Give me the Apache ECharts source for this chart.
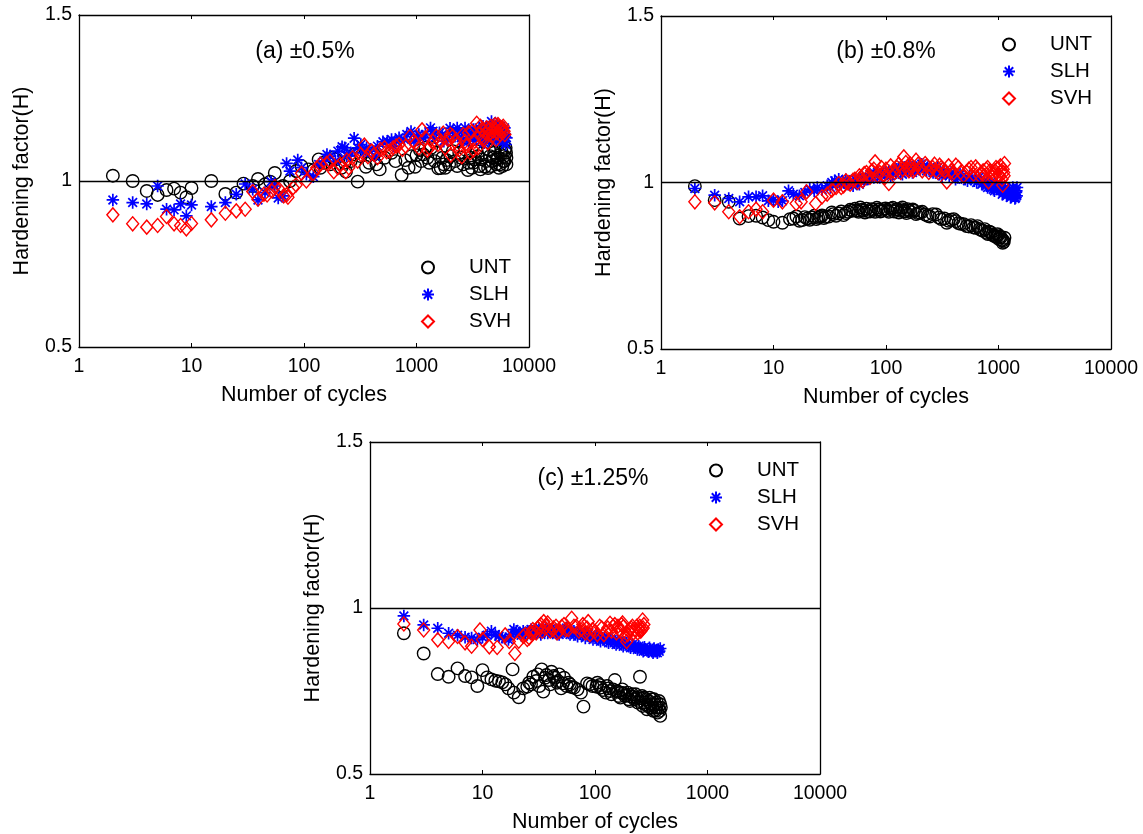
<!DOCTYPE html>
<html>
<head>
<meta charset="utf-8">
<script src="https://cdn.jsdelivr.net/npm/echarts@6/dist/echarts.min.js"></script>
<style>
  html, body { margin: 0; padding: 0; background: #ffffff; }
  #chart { width: 1143px; height: 834px; }
</style>
</head>
<body>
<div id="chart"></div>
<script>
// ---- data: [number of cycles, hardening factor H] ----
const seriesNames = ['UNT', 'SLH', 'SVH'];
const panelLabels = ['(a) \u00b10.5%', '(b) \u00b10.8%', '(c) \u00b11.25%'];
const xTitle = 'Number of cycles';
const yTitle = 'Hardening factor(H)';
const xRange = [1, 10000];
const yRange = [0.5, 1.5];
const yStep = 0.5;
const refLevel = 1;

// (a) ±0.5 %
const untA = [[2,1.016],[3,1.0],[4,0.97],[5,0.958],[6,0.973],[7,0.977],[8,0.965],[9,0.951],[10,0.979],[15,1.0],[20,0.961],[25,0.965],[29,0.992],[35,0.985],[39,1.006],[45,0.99],[50,0.998],[55,1.024],[65,0.985],[75,1.0],[85,1.03],[95,1.045],[110,1.035],[122,1.033],[135,1.065],[140,1.04],[150,1.055],[170,1.05],[180,1.07],[190,1.065],[215,1.04],[230,1.055],[236,1.028],[260,1.06],[280,1.08],[300,0.998],[320,1.075],[355,1.043],[380,1.055],[420,1.08],[440,1.05],[471,1.035],[520,1.07],[600,1.085],[650,1.06],[738,1.018],[794,1.063],[850,1.04],[900,1.075],[970,1.043],[1000,1.078],[1072,1.093],[1100,1.06],[1150,1.08],[1200,1.1],[1250,1.07],[1300,1.055],[1350,1.1],[1450,1.06],[1500,1.085],[1563,1.038],[1640,1.039],[1700,1.07],[1750,1.05],[1800,1.04],[1855,1.063],[1950,1.05],[2000,1.075],[2100,1.09],[2200,1.06],[2300,1.045],[2400,1.085],[2500,1.07],[2600,1.05],[2700,1.095],[2860,1.033],[2900,1.055],[3000,1.07],[3100,1.04],[3200,1.055],[3300,1.065],[3400,1.09],[3500,1.075],[3600,1.045],[3700,1.035],[3800,1.065],[3900,1.085],[4064,1.043],[4150,1.06],[4325,1.039],[4400,1.095],[4500,1.075],[4600,1.045],[4700,1.06],[4800,1.07],[4900,1.085],[5000,1.1],[5100,1.05],[5200,1.065],[5300,1.07],[5400,1.04],[5520,1.05],[5600,1.08],[5700,1.09],[5800,1.045],[5900,1.06],[6000,1.075],[6050,1.06],[6120,1.093],[6200,1.1],[6250,1.085],[6300,1.07],[6300,1.05]];
const slhA = [[2,0.943],[3,0.935],[4,0.931],[5,0.985],[6,0.915],[7,0.913],[8,0.931],[9,0.895],[10,0.928],[15,0.923],[20,0.935],[25,0.96],[30,0.991],[35,0.975],[39,0.943],[45,0.965],[51,0.998],[55,0.985],[59,0.949],[65,0.955],[70,1.053],[75,1.03],[88,1.063],[95,1.04],[105,1.02],[121,1.013],[135,1.05],[150,1.06],[160,1.08],[170,1.075],[190,1.06],[200,1.09],[218,1.103],[230,1.1],[240,1.075],[260,1.085],[279,1.129],[300,1.1],[320,1.11],[340,1.085],[360,1.1],[380,1.09],[430,1.075],[450,1.105],[503,1.118],[550,1.12],[600,1.125],[620,1.105],[660,1.12],[700,1.13],[780,1.125],[820,1.14],[894,1.149],[950,1.12],[1000,1.135],[1050,1.14],[1150,1.13],[1200,1.14],[1332,1.16],[1400,1.15],[1450,1.13],[1600,1.145],[1700,1.14],[1750,1.12],[1900,1.125],[1986,1.159],[2100,1.15],[2200,1.135],[2300,1.16],[2400,1.15],[2500,1.13],[2600,1.12],[2700,1.16],[2800,1.145],[2900,1.12],[3000,1.13],[3100,1.145],[3200,1.155],[3300,1.135],[3400,1.125],[3500,1.15],[3600,1.16],[3700,1.12],[3800,1.14],[3900,1.165],[4000,1.115],[4100,1.135],[4200,1.15],[4300,1.16],[4400,1.125],[4600,1.145],[4640,1.179],[4700,1.13],[4800,1.135],[4900,1.16],[5000,1.15],[5100,1.12],[5200,1.17],[5300,1.145],[5400,1.13],[5500,1.165],[5600,1.14],[5700,1.13],[5800,1.12],[5900,1.15],[6000,1.139],[6050,1.16],[6120,1.133],[6200,1.11],[6300,1.13]];
const svhA = [[2,0.898],[3,0.871],[4,0.861],[5,0.866],[6,0.893],[7,0.871],[8,0.866],[9,0.856],[10,0.872],[15,0.883],[20,0.903],[25,0.91],[30,0.915],[35,0.968],[39,0.945],[44,0.96],[47,0.958],[52,0.97],[55,0.983],[60,0.975],[66,0.955],[70,0.958],[72,0.951],[80,0.98],[85,0.988],[95,1.023],[105,1.0],[121,1.023],[130,1.04],[140,1.05],[159,1.053],[170,1.06],[184,1.028],[200,1.04],[210,1.05],[235,1.028],[240,1.063],[250,1.04],[270,1.07],[300,1.06],[320,1.08],[344,1.108],[370,1.073],[400,1.09],[420,1.08],[450,1.07],[480,1.095],[520,1.1],[543,1.088],[580,1.09],[620,1.1],[660,1.105],[700,1.11],[750,1.095],[800,1.105],[875,1.134],[950,1.12],[973,1.113],[1050,1.1],[1120,1.154],[1200,1.13],[1250,1.093],[1300,1.1],[1400,1.12],[1500,1.135],[1550,1.11],[1650,1.12],[1731,1.144],[1800,1.1],[1900,1.125],[2000,1.14],[2018,1.078],[2100,1.135],[2200,1.12],[2300,1.11],[2400,1.095],[2530,1.073],[2600,1.14],[2700,1.12],[2800,1.105],[2900,1.145],[3000,1.085],[3100,1.15],[3200,1.093],[3300,1.12],[3427,1.174],[3500,1.1],[3600,1.14],[3700,1.165],[3800,1.155],[3900,1.13],[4000,1.125],[4100,1.145],[4200,1.16],[4300,1.115],[4400,1.14],[4500,1.155],[4600,1.165],[4700,1.135],[4800,1.15],[4900,1.16],[5000,1.17],[5100,1.125],[5200,1.145],[5300,1.17],[5400,1.164],[5500,1.14],[5600,1.155],[5700,1.15],[5800,1.16],[5900,1.165],[6000,1.15],[6100,1.14]];

// (b) ±0.8 %
const untB = [[2,0.989],[3,0.947],[4,0.942],[5,0.892],[6,0.899],[7,0.9],[8,0.895],[9,0.887],[10,0.882],[12,0.879],[14,0.89],[15,0.892],[16,0.898],[17,0.885],[18,0.887],[19,0.896],[20,0.892],[21,0.888],[22,0.895],[23,0.9],[24,0.89],[25,0.894],[26,0.897],[27,0.901],[28,0.893],[29,0.897],[31,0.898],[33,0.91],[34,0.905],[36,0.9],[38,0.907],[40,0.913],[42,0.902],[44,0.908],[46,0.912],[48,0.918],[50,0.915],[53,0.921],[55,0.916],[57,0.912],[59,0.925],[61,0.918],[63,0.915],[65,0.91],[67,0.921],[69,0.914],[72,0.913],[74,0.92],[77,0.918],[80,0.912],[83,0.924],[86,0.919],[89,0.913],[92,0.915],[95,0.92],[99,0.922],[103,0.917],[106,0.912],[110,0.921],[115,0.924],[118,0.913],[122,0.918],[126,0.92],[130,0.91],[134,0.915],[137,0.92],[140,0.925],[144,0.914],[148,0.913],[152,0.908],[156,0.92],[160,0.916],[166,0.911],[173,0.919],[178,0.915],[185,0.905],[192,0.908],[200,0.91],[210,0.912],[223,0.904],[235,0.9],[245,0.898],[260,0.905],[279,0.904],[295,0.895],[310,0.89],[330,0.892],[347,0.879],[360,0.885],[380,0.888],[400,0.89],[418,0.884],[440,0.878],[460,0.876],[490,0.875],[520,0.869],[545,0.868],[570,0.872],[600,0.865],[627,0.864],[650,0.869],[680,0.86],[705,0.857],[730,0.855],[755,0.86],[782,0.849],[805,0.845],[830,0.852],[855,0.85],[880,0.843],[910,0.84],[940,0.839],[960,0.836],[980,0.845],[995,0.842],[1010,0.83],[1030,0.838],[1050,0.835],[1070,0.828],[1090,0.819],[1100,0.826],[1115,0.822],[1130,0.834]];
const slhB = [[2,0.982],[3,0.962],[4,0.952],[5,0.942],[6,0.957],[7,0.957],[8,0.96],[9,0.945],[10,0.948],[11,0.942],[12,0.945],[13.6,0.975],[15,0.965],[17,0.96],[19,0.97],[21,0.98],[23,0.975],[24.5,0.985],[27,0.978],[30,0.99],[32,0.985],[33,1.0],[35,1.005],[36,0.995],[38,1.01],[40,0.995],[42,1.0],[44,1.008],[46,0.995],[48,1.0],[51,0.99],[53,1.01],[56,1.0],[58,0.995],[60,1.01],[62,1.015],[64,1.005],[67,1.01],[70,1.015],[72,1.025],[75,1.02],[78,1.015],[80,1.025],[84,1.03],[88,1.015],[91,1.02],[95,1.03],[100,1.03],[106,1.035],[110,1.02],[115,1.025],[120,1.035],[125,1.04],[130,1.045],[135,1.03],[140,1.025],[145,1.045],[150,1.04],[155,1.035],[160,1.05],[167,1.045],[172,1.03],[180,1.035],[186,1.045],[195,1.05],[200,1.04],[208,1.055],[218,1.05],[229,1.035],[240,1.04],[250,1.045],[262,1.03],[275,1.03],[288,1.045],[300,1.025],[315,1.02],[330,1.035],[345,1.03],[365,1.02],[380,1.03],[400,1.025],[415,1.01],[433,1.015],[455,1.025],[480,1.02],[505,1.01],[530,1.005],[555,1.02],[580,1.015],[610,1.005],[640,1.0],[665,1.015],[690,1.01],[710,0.995],[726,1.0],[750,1.005],[780,0.99],[800,0.985],[830,0.995],[850,1.0],[870,0.985],[900,0.98],[920,0.975],[950,0.995],[970,0.99],[1000,0.98],[1030,0.975],[1050,0.99],[1080,0.965],[1100,0.97],[1130,0.98],[1150,0.985],[1180,0.96],[1200,0.965],[1230,0.97],[1250,0.98],[1280,0.955],[1300,0.96],[1320,0.975],[1340,0.985],[1360,0.96],[1380,0.965],[1400,0.952],[1420,0.955],[1430,0.97],[1440,0.975],[1450,0.96],[1460,0.985]];
const svhB = [[2,0.942],[3,0.939],[4,0.912],[5,0.897],[6,0.912],[7,0.92],[8,0.912],[10,0.947],[12,0.942],[15.9,0.937],[17.6,0.942],[19.7,0.972],[23.7,0.937],[27,0.957],[30,0.965],[33,0.977],[36,0.985],[38,0.997],[40,0.985],[42,0.99],[44,1.005],[46,1.0],[48,0.995],[51,1.007],[53,1.01],[56,1.0],[58,1.02],[60,1.015],[62,1.005],[64,1.027],[67,1.03],[70,1.02],[72,1.015],[75,1.035],[78,1.04],[80,1.062],[84,1.02],[88,1.03],[91,1.045],[95,1.025],[98,1.015],[100,1.04],[106,0.997],[110,1.05],[115,1.035],[120,1.03],[125,1.045],[130,1.055],[135,1.03],[140,1.04],[144,1.077],[150,1.06],[155,1.04],[160,1.035],[165,1.055],[170,1.05],[175,1.035],[180,1.04],[185,1.067],[193,1.055],[200,1.045],[210,1.035],[223,1.057],[230,1.05],[240,1.03],[250,1.04],[260,1.045],[270,1.055],[280,1.035],[290,1.03],[300,1.052],[310,1.045],[320,1.04],[335,1.035],[347,1.002],[360,1.05],[380,1.035],[400,1.03],[418,1.052],[440,1.045],[460,1.03],[490,1.02],[520,1.032],[545,1.04],[570,1.045],[600,1.025],[627,1.047],[650,1.04],[680,1.02],[700,1.03],[730,1.035],[750,1.02],[780,1.04],[800,1.045],[815,1.002],[840,1.035],[860,1.03],[885,1.015],[910,1.025],[930,1.035],[950,1.045],[980,1.042],[1000,1.025],[1020,1.02],[1040,1.05],[1060,1.035],[1075,1.01],[1090,0.992],[1100,1.04],[1110,1.03],[1120,1.02],[1130,1.057]];

// (c) ±1.25 %
const untC = [[2,0.924],[3,0.863],[4,0.801],[5,0.793],[6,0.818],[7,0.795],[8,0.791],[9,0.765],[10,0.813],[11,0.791],[12,0.785],[13,0.781],[14,0.779],[15,0.776],[16,0.77],[17,0.758],[18.5,0.815],[19,0.745],[21,0.731],[23,0.758],[25,0.763],[26,0.775],[27,0.77],[28.3,0.793],[30,0.78],[31,0.8],[32,0.765],[33.6,0.815],[34.7,0.748],[36,0.79],[37,0.798],[39,0.783],[40,0.77],[41,0.808],[43,0.795],[44,0.79],[46,0.775],[47,0.78],[48,0.8],[50,0.758],[52,0.773],[53,0.79],[56,0.765],[58,0.775],[60,0.77],[62,0.762],[65,0.76],[70,0.755],[75,0.745],[79,0.703],[85,0.773],[90,0.77],[95,0.765],[103,0.763],[105,0.775],[110,0.768],[112,0.76],[118,0.753],[125,0.745],[128,0.765],[132,0.758],[136,0.75],[140,0.74],[145,0.755],[150,0.783],[155,0.75],[160,0.748],[163,0.735],[168,0.73],[170,0.745],[175,0.755],[179,0.743],[185,0.735],[190,0.738],[195,0.745],[200,0.725],[205,0.72],[210,0.733],[215,0.74],[219,0.733],[225,0.725],[230,0.74],[235,0.73],[240,0.715],[245,0.72],[251,0.793],[258,0.728],[262,0.735],[265,0.705],[272,0.73],[275,0.715],[280,0.71],[285,0.725],[290,0.695],[295,0.705],[300,0.72],[305,0.73],[310,0.7],[315,0.71],[320,0.725],[325,0.7],[330,0.69],[335,0.725],[340,0.71],[345,0.69],[350,0.7],[355,0.715],[360,0.685],[365,0.7],[370,0.72],[375,0.69],[380,0.675],[380,0.71],[385,0.7]];
const slhC = [[2,0.976],[3,0.949],[4,0.939],[5,0.924],[6,0.918],[7,0.912],[8,0.91],[9,0.905],[10,0.912],[11,0.918],[12,0.93],[13,0.92],[14,0.915],[15,0.912],[16,0.908],[17,0.905],[18,0.92],[19,0.935],[20,0.93],[21,0.925],[22,0.918],[23,0.93],[24,0.925],[25,0.92],[26,0.93],[27,0.935],[28,0.92],[29,0.925],[30,0.935],[31,0.93],[32,0.928],[33,0.92],[34,0.94],[35,0.935],[36,0.93],[37,0.94],[38,0.925],[40,0.935],[42,0.925],[43,0.93],[45,0.935],[46,0.922],[48,0.92],[50,0.928],[52,0.93],[54,0.935],[56,0.94],[58,0.925],[60,0.92],[62,0.93],[65,0.93],[67,0.92],[70,0.915],[72,0.925],[75,0.93],[78,0.918],[82,0.91],[85,0.922],[88,0.925],[92,0.912],[96,0.905],[100,0.915],[104,0.915],[108,0.905],[112,0.9],[117,0.91],[122,0.91],[127,0.9],[132,0.895],[137,0.905],[142,0.905],[148,0.895],[154,0.89],[160,0.9],[166,0.9],[172,0.89],[178,0.885],[185,0.895],[192,0.895],[200,0.885],[207,0.88],[215,0.89],[222,0.885],[230,0.88],[238,0.875],[245,0.885],[252,0.88],[260,0.875],[268,0.87],[275,0.882],[282,0.875],[290,0.872],[298,0.868],[305,0.88],[312,0.875],[320,0.87],[328,0.865],[335,0.878],[342,0.87],[350,0.872],[358,0.865],[365,0.875],[372,0.87],[380,0.878]];
const svhC = [[2,0.952],[3,0.934],[4,0.904],[5,0.899],[6,0.914],[7,0.895],[8,0.885],[9.5,0.934],[10,0.905],[11.5,0.883],[13.5,0.881],[15.9,0.919],[17.3,0.899],[19.4,0.863],[21,0.9],[23,0.915],[24,0.92],[25,0.905],[26,0.91],[27,0.925],[28,0.935],[29,0.93],[30,0.925],[31,0.94],[32,0.945],[33,0.95],[34,0.93],[35,0.959],[36,0.94],[37,0.945],[38,0.955],[40,0.93],[42,0.935],[43,0.94],[45,0.945],[46,0.925],[48,0.93],[50.6,0.944],[53,0.95],[55,0.935],[58,0.935],[62,0.969],[65,0.945],[68,0.945],[72,0.93],[75,0.935],[78,0.95],[82,0.925],[85,0.94],[87,0.959],[90,0.92],[95,0.935],[100,0.93],[105,0.92],[110,0.945],[115,0.94],[120,0.92],[125,0.93],[130,0.94],[136,0.954],[140,0.93],[145,0.945],[150,0.95],[155,0.925],[160,0.945],[165,0.935],[168,0.93],[172,0.95],[176,0.955],[179,0.944],[185,0.915],[191,0.899],[195,0.92],[200,0.93],[205,0.935],[210,0.94],[215,0.945],[220,0.925],[225,0.935],[235,0.945],[240,0.925],[245,0.935],[250,0.945],[255,0.93],[260,0.935],[265,0.964],[268,0.94],[272,0.95]];

const panelData = [
  [untA, slhA, svhA],
  [untB, slhB, svhB],
  [untC, slhC, svhC]
];

// ---- layout and styling ----
const FONT = "'Liberation Sans', Arial, Helvetica, sans-serif";
const STAR = 'path://M5,0L5,10M0,5L10,5M1.5,1.5L8.5,8.5M1.5,8.5L8.5,1.5';
const markerStyle = [
  { symbol: 'circle', symbolSize: 12.5, color: '#000000', width: 1.4 },
  { symbol: STAR, symbolSize: 12.5, color: '#0000ff', width: 1.7 },
  { symbol: 'diamond', symbolSize: [12, 14], color: '#ff0000', width: 1.4 }
];
const panelLayout = [
  { grid: { left: 79, top: 15, width: 450, height: 332 }, note: [305, 52], legend: { left: 416, top: 252 } },
  { grid: { left: 661, top: 16, width: 450, height: 333 }, note: [886, 52], legend: { left: 997, top: 29 } },
  { grid: { left: 370, top: 442, width: 450, height: 332 }, note: [593, 479], legend: { left: 704, top: 455 } }
];

const axisLineStyle = { color: '#000000', width: 1.3 };
const tickStyle = { show: true, inside: true, length: 4, lineStyle: { color: '#000000', width: 1 } };
const tickLabel = { fontFamily: FONT, fontSize: 19.5, color: '#000000' };
const titleText = { fontFamily: FONT, fontSize: 21.5, color: '#000000' };

const grids = [], xAxes = [], yAxes = [], series = [], legends = [], notes = [];

panelLayout.forEach((p, i) => {
  grids.push(Object.assign({ show: false, containLabel: false, outerBoundsMode: 'none' }, p.grid));

  const xBase = {
    type: 'log', logBase: 10, gridIndex: i, min: xRange[0], max: xRange[1],
    axisLine: { show: true, onZero: false, lineStyle: axisLineStyle },
    axisTick: tickStyle, minorTick: { show: false }, splitLine: { show: false }
  };
  xAxes.push(Object.assign({}, xBase, {
    position: 'bottom', name: xTitle, nameLocation: 'middle', nameGap: 37, nameTextStyle: titleText,
    axisLabel: Object.assign({ margin: 10, formatter: v => String(Math.round(v)) }, tickLabel)
  }));
  xAxes.push(Object.assign({}, xBase, { position: 'top', axisLabel: { show: false } }));

  const yBase = {
    type: 'value', gridIndex: i, min: yRange[0], max: yRange[1], interval: yStep,
    axisLine: { show: true, onZero: false, lineStyle: axisLineStyle },
    axisTick: tickStyle, splitLine: { show: false }
  };
  yAxes.push(Object.assign({}, yBase, {
    position: 'left', name: yTitle, nameLocation: 'middle', nameGap: 46, nameRotate: 90, nameTextStyle: titleText,
    axisLabel: Object.assign({ margin: 7, formatter: v => String(+v.toFixed(2)) }, tickLabel)
  }));
  yAxes.push(Object.assign({}, yBase, { position: 'right', axisLabel: { show: false } }));

  panelData[i].forEach((data, k) => {
    const m = markerStyle[k];
    const s = {
      type: 'scatter', name: seriesNames[k], xAxisIndex: 2 * i, yAxisIndex: 2 * i,
      data: data, symbol: m.symbol, symbolSize: m.symbolSize,
      itemStyle: { color: 'rgba(0,0,0,0)', borderColor: m.color, borderWidth: m.width, opacity: 1 },
      emphasis: { disabled: true }, silent: true, z: 2 + k
    };
    if (k === 0) {
      s.markLine = {
        silent: true, symbol: ['none', 'none'], animation: false,
        label: { show: false },
        lineStyle: { color: '#000000', width: 1.4, type: 'solid' },
        data: [{ yAxis: refLevel }]
      };
    }
    series.push(s);
  });

  legends.push({
    orient: 'vertical', left: p.legend.left, top: p.legend.top,
    itemWidth: 12, itemHeight: 12, itemGap: 6, selectedMode: false,
    data: seriesNames,
    textStyle: { fontFamily: FONT, fontSize: 20.5, color: '#000000', padding: [0, 0, 0, 30] }
  });

  notes.push({
    type: 'text', x: p.note[0], y: p.note[1], silent: true,
    style: { text: panelLabels[i], font: '23px ' + FONT, fill: '#000000',
             align: 'center', verticalAlign: 'middle', textAlign: 'center', textVerticalAlign: 'middle' }
  });
});

const chart = echarts.init(document.getElementById('chart'), null, { renderer: 'canvas' });
chart.setOption({
  animation: false,
  backgroundColor: '#ffffff',
  grid: grids,
  xAxis: xAxes,
  yAxis: yAxes,
  legend: legends,
  graphic: notes,
  series: series
});
</script>
</body>
</html>
